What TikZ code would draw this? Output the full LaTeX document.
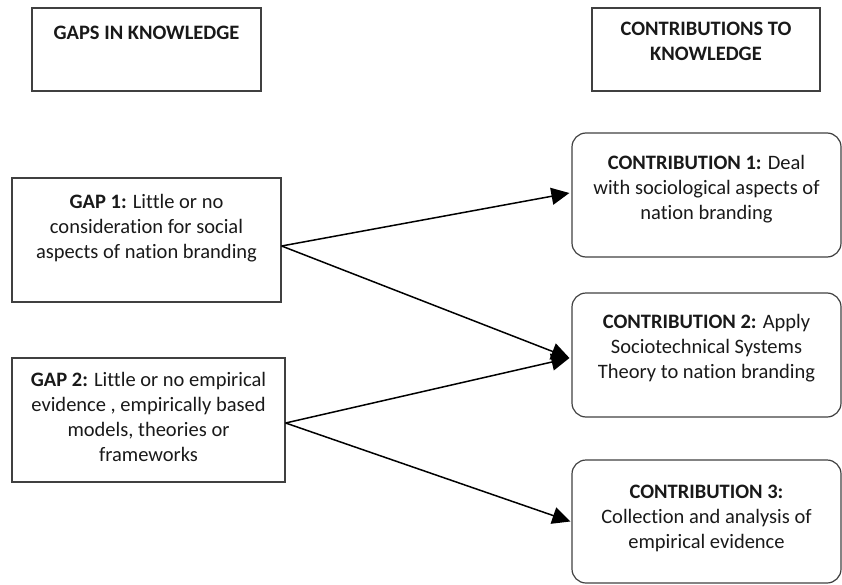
\documentclass[tikz,border=0pt]{standalone}
\usepackage{fontspec}
\setmainfont[Ligatures=NoCommon]{Carlito}
\usetikzlibrary{positioning, arrows.meta}

\tikzset{
  gapbox/.style={rectangle, draw=black!75, line width=1.2pt, inner sep=0, minimum height=124pt},
  contribbox/.style={gapbox, rounded corners=14pt},
  boxtext/.style={align=center, inner sep=0, text=black!90, font=\fontsize{20.5}{25}\selectfont, execute at begin node=\strut},
  linkarrow/.style={-{Triangle[length=18pt,width=17pt]}, line width=1.5pt}
}

\begin{document}
\begin{tikzpicture}[x=1pt, y=-1pt]
\useasboundingbox (0,0) rectangle (842,585);

% column headings
\node [gapbox, minimum width=229pt, minimum height=83pt] (headgaps) at (146.5,49.5) {};
\node [boxtext, below=14pt of headgaps.north] (headgapstxt) {\textbf{GAPS IN KNOWLEDGE}};
\node [gapbox, minimum width=228pt, minimum height=83pt] (headcontrib) at (706,49.5) {};
\node [boxtext, below=14pt of headcontrib.north] (headcontribtxt) {\textbf{CONTRIBUTIONS TO}\\\textbf{KNOWLEDGE}};

% gaps
\node [gapbox, minimum width=269pt] (gap1) at (146.5,240) {};
\node [boxtext, below=17pt of gap1.north] (gap1txt) {\textbf{GAP 1:} Little or no\\consideration for social\\aspects of nation branding};
\node [gapbox, minimum width=273pt] (gap2) at (148.5,420) {};
\node [boxtext, below=15pt of gap2.north] (gap2txt) {\textbf{GAP 2:} Little or no empirical\\evidence , empirically based\\models, theories or\\frameworks};

% contributions
\node [contribbox, minimum width=269pt] (contrib1) at (706.5,195) {};
\node [boxtext, below=23pt of contrib1.north] (contrib1txt) {\textbf{CONTRIBUTION 1:} Deal\\with sociological aspects of\\nation branding};
\node [contribbox, minimum width=269pt] (contrib2) at (706.5,355) {};
\node [boxtext, below=22pt of contrib2.north] (contrib2txt) {\textbf{CONTRIBUTION 2:} Apply\\Sociotechnical Systems\\Theory to nation branding};
\node [contribbox, minimum width=269pt, minimum height=123pt] (contrib3) at (706.5,521.5) {};
\node [boxtext, below=25pt of contrib3.north] (contrib3txt) {\textbf{CONTRIBUTION 3:}\\Collection and analysis of\\empirical evidence};

% links
\draw [linkarrow] ([yshift=-6pt]gap1.east) -- ([xshift=-2pt,yshift=2pt]contrib1.west);
\draw [linkarrow] ([yshift=-6pt]gap1.east) -- ([xshift=-2pt,yshift=-3pt]contrib2.west);
\draw [linkarrow] ([yshift=-3pt]gap2.east) -- ([xshift=-2pt,yshift=-3pt]contrib2.west);
\draw [linkarrow] ([yshift=-3pt]gap2.east) -- ([xshift=-1pt]contrib3.west);
\end{tikzpicture}
\end{document}
